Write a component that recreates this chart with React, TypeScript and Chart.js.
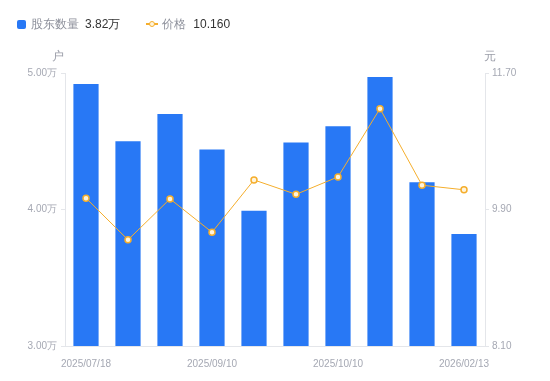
import React, { useEffect, useRef } from "react";
import { Chart, registerables } from "chart.js";

Chart.register(...registerables);

const categories = [
  "2025/07/18", "2025/08/01", "2025/08/15", "2025/09/10", "2025/09/19",
  "2025/09/30", "2025/10/10", "2025/10/31", "2025/12/31", "2026/02/13",
];
const holders = [4.92, 4.5, 4.7, 4.44, 3.99, 4.49, 4.61, 4.97, 4.2, 3.82]; // 万户
const prices = [10.05, 9.5, 10.04, 9.6, 10.29, 10.1, 10.33, 11.23, 10.22, 10.16];
const shownLabelIdx = [0, 3, 6, 9];
const leftTicks = [3, 4, 5];
const rightTicks = [8.1, 9.9, 11.7];

const BLUE = "#2878f5";
const ORANGE = "#f5ae2c";
const TICK = "#a5a8b3";
const AXIS = "#e4e6ea";
const FONT = "'Liberation Sans', Arial, sans-serif";

export default function App() {
  const ref = useRef<HTMLCanvasElement | null>(null);

  useEffect(() => {
    document.body.style.margin = "0";
    const titlePlugin = {
      id: "axisTitles",
      afterDraw(chart: any) {
        const ctx = chart.ctx;
        const ca = chart.chartArea;
        ctx.save();
        ctx.fillStyle = "#9a9da8";
        ctx.font = `12px ${FONT}`;
        ctx.textAlign = "center";
        ctx.textBaseline = "middle";
        ctx.fillText("户", ca.left - 7, 57);
        ctx.fillText("元", ca.right + 5, 57);
        ctx.restore();
      },
    };
    const chart = new Chart(ref.current as HTMLCanvasElement, {
      type: "bar",
      data: {
        labels: categories,
        datasets: [
          {
            type: "line",
            label: "价格",
            data: prices,
            yAxisID: "y1",
            borderColor: ORANGE,
            borderWidth: 1,
            pointRadius: 3,
            pointBorderWidth: 1.5,
            pointBackgroundColor: "#fff4dc",
            pointBorderColor: ORANGE,
            tension: 0,
            order: 0,
          } as any,
          {
            type: "bar",
            label: "股东数量",
            data: holders,
            yAxisID: "y",
            backgroundColor: BLUE,
            barPercentage: 0.6,
            categoryPercentage: 1,
            order: 1,
          },
        ],
      },
      options: {
        animation: false,
        responsive: false,
        maintainAspectRatio: false,
        layout: { padding: { top: 73, left: 0, right: 0, bottom: 0 } },
        plugins: { legend: { display: false }, tooltip: { enabled: false } },
        scales: {
          x: {
            offset: true,
            grid: { display: false },
            border: { display: true, color: AXIS },
            ticks: {
              autoSkip: false,
              maxRotation: 0,
              color: TICK,
              font: { size: 10, family: FONT },
              padding: 4,
              callback: (_v: any, i: number) =>
                shownLabelIdx.includes(i) ? categories[i] : "",
            },
            afterFit: (s: any) => {
              s.height = 35;
            },
          },
          y: {
            position: "left",
            min: 3,
            max: 5,
            afterBuildTicks: (s: any) => {
              s.ticks = leftTicks.map((v) => ({ value: v }));
            },
            grid: { drawOnChartArea: false, drawTicks: true, tickLength: 4, color: AXIS },
            border: { display: true, color: AXIS },
            ticks: {
              color: TICK,
              font: { size: 10, family: FONT },
              padding: 4,
              callback: (v: any) => Number(v).toFixed(2) + "万",
            },
            afterFit: (s: any) => {
              s.width = 65;
            },
          },
          y1: {
            position: "right",
            min: 8.1,
            max: 11.7,
            afterBuildTicks: (s: any) => {
              s.ticks = rightTicks.map((v) => ({ value: v }));
            },
            grid: { drawOnChartArea: false, drawTicks: true, tickLength: 4, color: AXIS },
            border: { display: true, color: AXIS },
            ticks: {
              color: TICK,
              font: { size: 10, family: FONT },
              padding: 3,
              callback: (v: any) => Number(v).toFixed(2),
            },
            afterFit: (s: any) => {
              s.width = 65;
            },
          },
        },
      },
      plugins: [titlePlugin],
    });
    return () => chart.destroy();
  }, []);

  const lastHolders = holders[holders.length - 1].toFixed(2) + "万";
  const lastPrice = prices[prices.length - 1].toFixed(3);

  return (
    <div style={{ position: "relative", width: 550, height: 381, fontFamily: FONT }}>
      <canvas ref={ref} width={550} height={381} style={{ display: "block" }} />
      <div
        style={{
          position: "absolute",
          left: 17,
          top: 16,
          height: 16,
          display: "flex",
          alignItems: "center",
          fontSize: 12,
          whiteSpace: "nowrap",
        }}
      >
        <span
          style={{ width: 9, height: 9, background: BLUE, borderRadius: 2, display: "inline-block" }}
        />
        <span style={{ color: "#8d909b", marginLeft: 5 }}>股东数量</span>
        <span style={{ color: "#333", marginLeft: 6 }}>{lastHolders}</span>
        <span
          style={{
            position: "relative",
            width: 12,
            height: 10,
            marginLeft: 26,
            display: "inline-block",
          }}
        >
          <span
            style={{
              position: "absolute",
              left: 0,
              top: 4.25,
              width: 12,
              height: 1.5,
              background: ORANGE,
            }}
          />
          <span
            style={{
              position: "absolute",
              left: 2.5,
              top: 1.5,
              width: 4,
              height: 4,
              border: `1.5px solid ${ORANGE}`,
              borderRadius: "50%",
              background: "#fff4dc",
            }}
          />
        </span>
        <span style={{ color: "#8d909b", marginLeft: 4 }}>价格</span>
        <span style={{ color: "#333", marginLeft: 7 }}>{lastPrice}</span>
      </div>
    </div>
  );
}
